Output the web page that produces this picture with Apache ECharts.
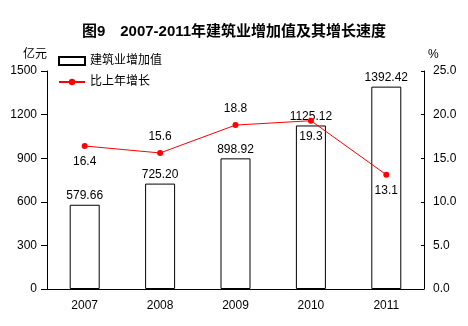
<!DOCTYPE html>
<html><head><meta charset="utf-8">
<script src="https://cdn.jsdelivr.net/npm/echarts@6/dist/echarts.min.js"></script>
<style>html,body{margin:0;padding:0;background:#fff}#c{width:468px;height:326px}</style>
</head><body><div id="c"></div>
<script>
var years = ['2007','2008','2009','2010','2011'];
var addedValue = [579.66, 725.20, 898.92, 1125.12, 1392.42];
var growth = [16.4, 15.6, 18.8, 19.3, 13.1];
var growthLabelPos = ['bottom','top','top','bottom','bottom'];
var leftTicks = {min:0, max:1500, interval:300};
var rightTicks = {min:0, max:25, interval:5};

var FONT = '"Liberation Sans", Arial, "Noto Sans CJK SC", sans-serif';
var chart = echarts.init(document.getElementById('c'));
chart.setOption({
  animation:false,
  textStyle:{fontFamily:FONT, color:'#000'},
  title:{text:'图9　2007-2011年建筑业增加值及其增长速度', left:'center', top:19,
    textStyle:{fontSize:15, fontWeight:'bold', color:'#000', fontFamily:FONT}},
  legend:{orient:'vertical', left:53, top:50, itemWidth:26, itemHeight:8, itemGap:9,
    textStyle:{fontSize:12, color:'#000', fontFamily:FONT},
    data:[{name:'建筑业增加值', icon:'rect'},{name:'比上年增长'}]},
  grid:{left:47, right:44, top:71, bottom:37},
  xAxis:{type:'category', data:years,
    axisLine:{lineStyle:{color:'#000', width:1}},
    axisTick:{inside:true, length:3, lineStyle:{color:'#000'}},
    axisLabel:{color:'#000', fontSize:12, margin:11, fontFamily:FONT}},
  yAxis:[
    {type:'value', min:leftTicks.min, max:leftTicks.max, interval:leftTicks.interval,
     name:'亿元', nameLocation:'end', nameGap:0,
     nameTextStyle:{color:'#000', fontSize:12, align:'right', verticalAlign:'bottom', padding:[0,0,10,0], fontFamily:FONT},
     axisLine:{show:true, lineStyle:{color:'#000'}},
     axisTick:{show:true, length:6, lineStyle:{color:'#000'}},
     axisLabel:{color:'#000', fontSize:12, margin:10, fontFamily:FONT,
       formatter:function(v){return String(v);}},
     splitLine:{show:false}},
    {type:'value', min:rightTicks.min, max:rightTicks.max, interval:rightTicks.interval,
     name:'%', nameLocation:'end', nameGap:0,
     nameTextStyle:{color:'#000', fontSize:12, align:'left', verticalAlign:'bottom', padding:[0,0,10,4], fontFamily:FONT},
     axisLine:{show:true, lineStyle:{color:'#000'}},
     axisTick:{show:true, inside:true, length:3, lineStyle:{color:'#000'}},
     axisLabel:{color:'#000', fontSize:12, margin:9, fontFamily:FONT,
       formatter:function(v){return v.toFixed(1);}},
     splitLine:{show:false}}
  ],
  series:[
    {name:'建筑业增加值', type:'bar', barWidth:30, yAxisIndex:0,
     data:addedValue,
     itemStyle:{color:'#fff', borderColor:'#000', borderWidth:1},
     label:{show:true, position:'top', distance:3, color:'#000', fontSize:12, fontFamily:FONT,
       formatter:function(p){return p.value.toFixed(2);}}},
    {name:'比上年增长', type:'line', yAxisIndex:1,
     data:growth.map(function(v,i){return {value:v, label:{position:growthLabelPos[i]}};}),
     symbol:'circle', symbolSize:6,
     lineStyle:{color:'#f00', width:1}, itemStyle:{color:'#f00'},
     label:{show:true, distance:7, color:'#000', fontSize:12, fontFamily:FONT,
       formatter:function(p){return p.value.toFixed(1);}}}
  ]
});
</script></body></html>
